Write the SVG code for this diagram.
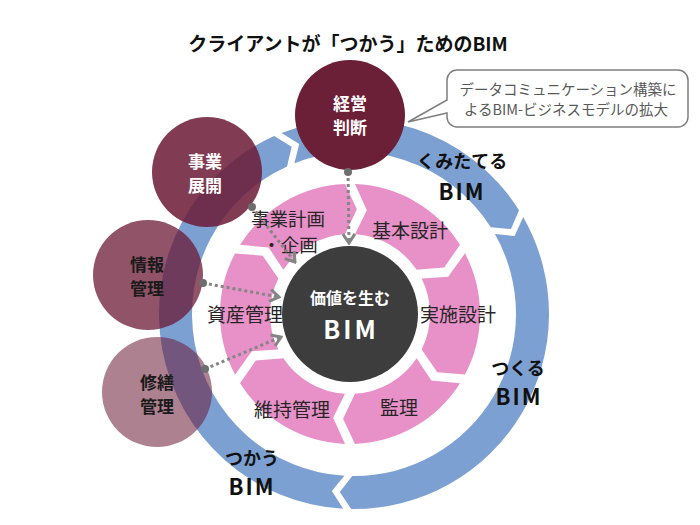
<svg xmlns="http://www.w3.org/2000/svg" width="700" height="525" viewBox="0 0 700 525">
<defs>
<style>
text{font-family:"Noto Sans CJK JP","Noto Sans",sans-serif;text-anchor:middle}
.title{font-size:19px;font-weight:700;fill:#111}
.pink{fill:#e890c8}
.blue{fill:#7da0d2}
.plab{font-size:19px;fill:#262626}
.blab{font-size:18px;font-weight:700;fill:#111}
.bim{font-size:22px;letter-spacing:2px}
.ctext{font-size:17px;font-weight:700}
.wh{fill:#ffffff}
.dk{fill:#1a1a1a}
.circ{fill:#6b1a36}
.conn{stroke:#858585;stroke-width:3;stroke-dasharray:3 3;fill:none;marker-start:url(#dot);marker-end:url(#vhead)}
.callout{font-size:14.5px;fill:#595959}
</style>
<path id="pseg" d="M129.90,4.99 A130,130 0 0 1 69.28,110.00 L46.41,94.19 L44.24,66.65 A80,80 0 0 0 79.84,5.00 L103.64,16.84 Z"/>
<marker id="dot" markerWidth="10" markerHeight="10" refX="5" refY="5" markerUnits="userSpaceOnUse"><circle cx="5" cy="5" r="4" fill="#6e6e6e"/></marker>
<marker id="vhead" viewBox="0 0 12 14" refX="10" refY="7" markerWidth="12" markerHeight="14" orient="auto" markerUnits="userSpaceOnUse"><path d="M1,1 L10,7 L1,13" fill="none" stroke="#858585" stroke-width="3"/></marker>
</defs>
<rect width="700" height="525" fill="#ffffff"/>
<text class="title" x="348" y="51">クライアントが「つかう」ためのBIM</text>

<g id="blue-kumitateru">
<path class="blue" transform="translate(354,314) rotate(247)" d="M194.96,4.02 A195,195 0 0 1 31.11,192.50 L16.89,177.70 L26.49,159.82 A162,162 0 0 0 161.95,3.99 L177.78,15.96 Z"/>
<text class="blab"><tspan x="462" y="168">くみたてる</tspan><tspan class="bim" x="462" y="200">BIM</tspan></text>
</g>
<g id="blue-tsukuru">
<path class="blue" transform="translate(354,314) rotate(329)" d="M194.96,4.02 A195,195 0 0 1 -102.81,165.70 L-103.83,145.19 L-84.86,137.99 A162,162 0 0 0 161.95,3.99 L177.78,15.96 Z"/>
<text class="blab"><tspan x="518" y="375">つくる</tspan><tspan class="bim" x="519" y="405">BIM</tspan></text>
</g>
<g id="blue-tsukau">
<path class="blue" transform="translate(354,314) rotate(92)" d="M194.96,4.02 A195,195 0 0 1 -175.00,86.03 L-165.00,68.11 L-145.09,72.05 A162,162 0 0 0 161.95,3.99 L177.78,15.96 Z"/>
<text class="blab"><tspan x="252" y="465">つかう</tspan><tspan class="bim" x="252" y="495">BIM</tspan></text>
</g>

<g id="pink-kikaku">
<use href="#pseg" class="pink" transform="translate(350,314) rotate(210)"/>
<text class="plab" style="font-size:18.5px"><tspan x="288" y="226">事業計画</tspan><tspan x="290" y="252">・企画</tspan></text>
</g>
<g id="pink-kihon">
<use href="#pseg" class="pink" transform="translate(350,314) rotate(270)"/>
<text class="plab" x="410" y="238">基本設計</text>
</g>
<g id="pink-jisshi">
<use href="#pseg" class="pink" transform="translate(350,314) rotate(330)"/>
<text class="plab" x="458" y="322">実施設計</text>
</g>
<g id="pink-kanri">
<use href="#pseg" class="pink" transform="translate(350,314) rotate(30)"/>
<text class="plab" x="399" y="415">監理</text>
</g>
<g id="pink-iji">
<use href="#pseg" class="pink" transform="translate(350,314) rotate(90)"/>
<text class="plab" x="292" y="417">維持管理</text>
</g>
<g id="pink-shisan">
<use href="#pseg" class="pink" transform="translate(350,314) rotate(150)"/>
<text class="plab" x="245" y="322">資産管理</text>
</g>

<g id="center">
<circle cx="350" cy="314" r="68" fill="#3d3d3d"/>
<text class="wh" style="font-weight:700"><tspan x="350" y="304" style="font-size:16px">価値を生む</tspan><tspan x="351" y="339" style="font-size:25px;letter-spacing:3px">BIM</tspan></text>
</g>

<g id="keiei">
<circle cx="350" cy="115" r="55" fill="#6c2038"/>
<text class="ctext wh"><tspan x="350" y="110">経営</tspan><tspan x="350" y="134">判断</tspan></text>
</g>
<g id="jigyo">
<circle class="circ" cx="207" cy="172" r="55" opacity="0.85"/>
<text class="ctext wh"><tspan x="205" y="168">事業</tspan><tspan x="205" y="192">展開</tspan></text>
</g>
<g id="joho">
<circle class="circ" cx="148" cy="275" r="55" opacity="0.75"/>
<text class="ctext dk"><tspan x="147" y="271">情報</tspan><tspan x="147" y="295">管理</tspan></text>
</g>
<g id="shuzen">
<circle class="circ" cx="157" cy="392" r="55" opacity="0.55"/>
<text class="ctext dk"><tspan x="157" y="389">修繕</tspan><tspan x="157" y="413">管理</tspan></text>
</g>

<g id="callout">
<path d="M457,70 H678 A10,10 0 0 1 688,80 V117 A10,10 0 0 1 678,127 H457 A10,10 0 0 1 447,117 V113 L408,122 L447,100 V80 A10,10 0 0 1 457,70 Z" fill="#ffffff" stroke="#7f7f7f" stroke-width="1.5"/>
<text class="callout"><tspan x="568" y="95">データコミュニケーション構築に</tspan><tspan x="566" y="115">よるBIM-ビジネスモデルの拡大</tspan></text>
</g>

<g id="connectors">
<path class="conn" d="M348,172 L349,243"/>
<path class="conn" d="M252,207 L295,262"/>
<path class="conn" d="M203,283 L279,297"/>
<path class="conn" d="M205,369 L281,337"/>
</g>
</svg>
